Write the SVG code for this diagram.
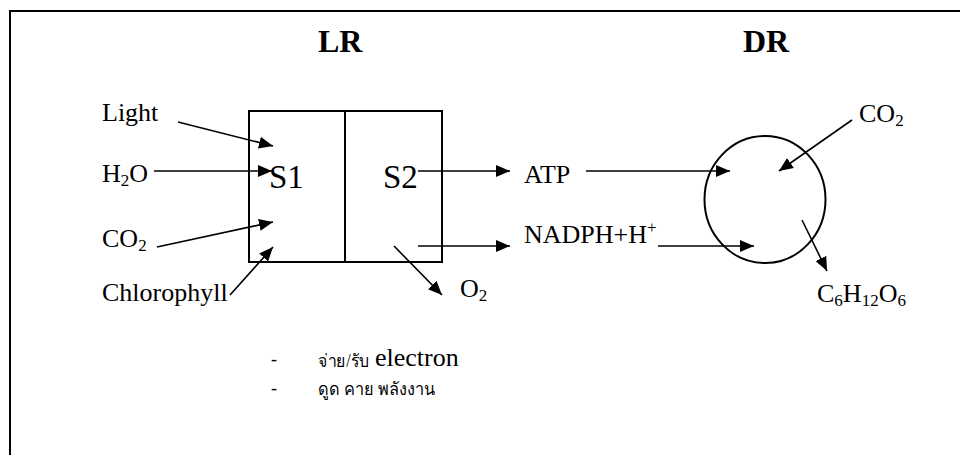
<svg xmlns="http://www.w3.org/2000/svg" width="960" height="455" viewBox="0 0 960 455">
<defs>
<style>
.t{font-family:"Liberation Serif","Times New Roman",serif;font-size:26px;fill:#000}
.sub{font-size:17px}
.h{font-family:"Liberation Serif","Times New Roman",serif;font-size:32px;font-weight:bold;fill:#000}
.big{font-family:"Liberation Serif","Times New Roman",serif;font-size:33px;fill:#000}
.th{font-family:"Liberation Serif","Noto Sans",serif;font-size:18px;fill:#000}
.dash{font-family:"Liberation Serif","Times New Roman",serif;font-size:18px;fill:#000}
.el{font-family:"Liberation Serif","Times New Roman",serif;font-size:26px;fill:#000}
.ar{stroke:#000;stroke-width:1.6;fill:none;marker-end:url(#ah)}
.sh{stroke:#000;stroke-width:2;fill:none}
</style>
<marker id="ah" viewBox="0 0 14 12" refX="14" refY="6" markerWidth="14" markerHeight="12" markerUnits="userSpaceOnUse" orient="auto">
<path d="M0,0 L14,6 L0,12 z" fill="#000"/>
</marker>
</defs>
<rect width="960" height="455" fill="#fff"/>
<g id="frame">
<path class="sh" d="M10,455 L10,11 L960,11"/>
</g>
<g id="titles">
<text class="h" x="318" y="52">LR</text>
<text class="h" x="743" y="52">DR</text>
</g>
<g id="lr-box">
<rect class="sh" x="249" y="111" width="193" height="151"/>
<line class="sh" x1="345" y1="111" x2="345" y2="262"/>
<text class="big" x="269" y="188">S1</text>
<text class="big" x="383" y="188">S2</text>
</g>
<g id="dr-cycle">
<ellipse class="sh" cx="765" cy="199.5" rx="60.5" ry="63.5"/>
</g>
<g id="node-light"><text class="t" x="102" y="121">Light</text></g>
<g id="node-h2o"><text class="t" x="102" y="182">H<tspan class="sub" dy="4">2</tspan><tspan dy="-4">O</tspan></text></g>
<g id="node-co2-in"><text class="t" x="102" y="247">CO<tspan class="sub" dy="4">2</tspan></text></g>
<g id="node-chlorophyll"><text class="t" x="102" y="301">Chlorophyll</text></g>
<g id="node-atp"><text class="t" x="524" y="183">ATP</text></g>
<g id="node-nadph"><text class="t" x="524" y="243">NADPH+H<tspan class="sub" dy="-10">+</tspan></text></g>
<g id="node-o2"><text class="t" x="460" y="297">O<tspan class="sub" dy="4">2</tspan></text></g>
<g id="node-co2-dr"><text class="t" x="859" y="122">CO<tspan class="sub" dy="4">2</tspan></text></g>
<g id="node-glucose"><text class="t" x="817" y="302">C<tspan class="sub" dy="4">6</tspan><tspan dy="-4">H</tspan><tspan class="sub" dy="4">12</tspan><tspan dy="-4">O</tspan><tspan class="sub" dy="4">6</tspan></text></g>
<g id="connectors">
<line class="ar" x1="178" y1="122" x2="273" y2="146"/>
<line class="ar" x1="154" y1="171" x2="272" y2="171"/>
<line class="ar" x1="157" y1="247" x2="273" y2="222"/>
<line class="ar" x1="230" y1="295" x2="273" y2="247"/>
<line class="ar" x1="418" y1="171" x2="510" y2="171"/>
<line class="ar" x1="418" y1="246" x2="510" y2="246"/>
<line class="ar" x1="394" y1="246" x2="442" y2="295"/>
<line class="ar" x1="586" y1="171" x2="730" y2="171"/>
<line class="ar" x1="658" y1="246" x2="754" y2="246"/>
<line class="ar" x1="852" y1="120" x2="779" y2="171"/>
<line class="ar" x1="802" y1="220" x2="827" y2="271"/>
</g>
<g id="notes">
<text class="dash" x="271" y="365">-</text>
<text class="th" x="318" y="367" textLength="51" lengthAdjust="spacingAndGlyphs">จ่าย/รับ</text>
<text class="el" x="375" y="366">electron</text>
<text class="dash" x="271" y="394">-</text>
<text class="th" x="318" y="395" textLength="117" lengthAdjust="spacingAndGlyphs">ดูด คาย พลังงาน</text>
</g>
</svg>
